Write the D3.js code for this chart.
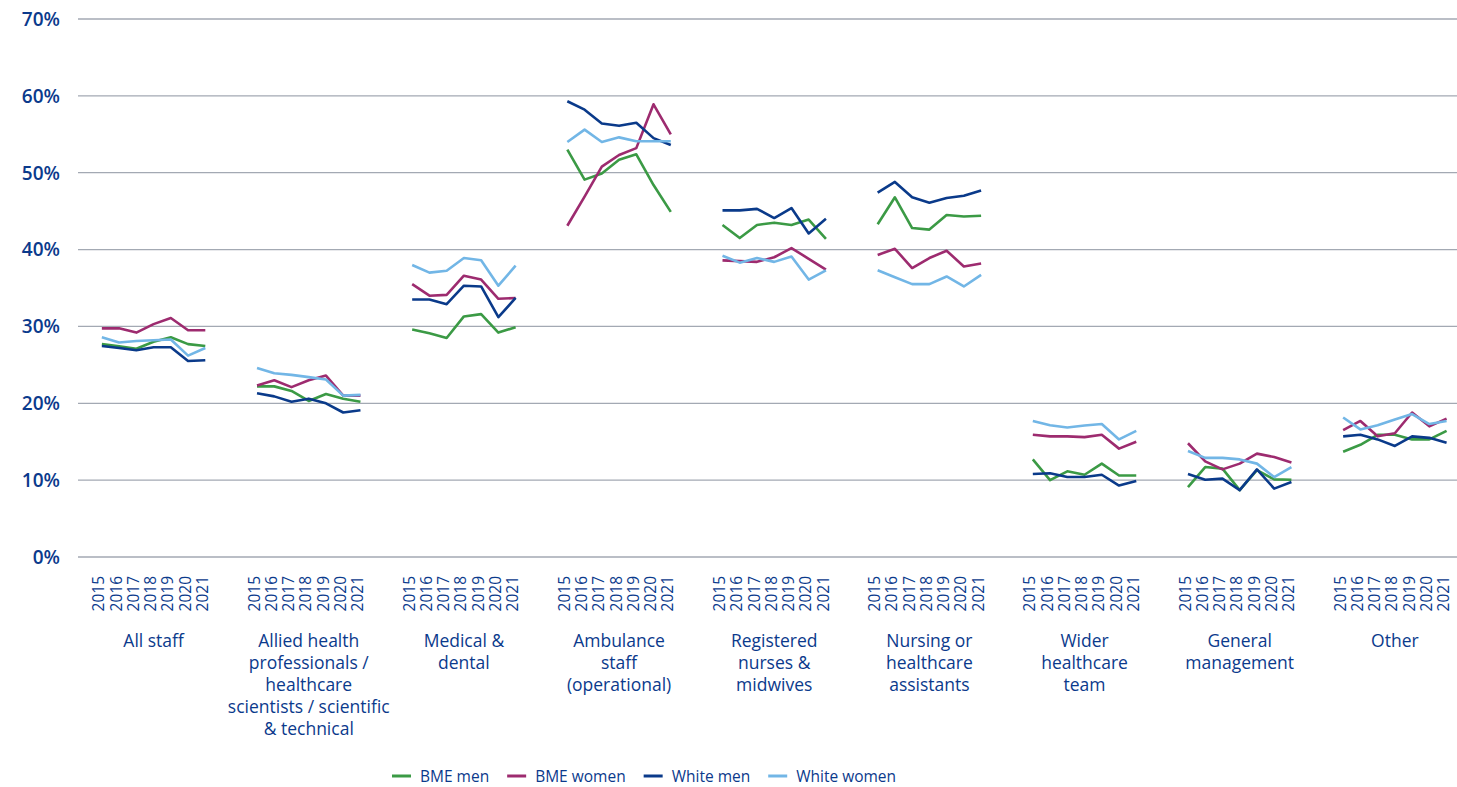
<!DOCTYPE html>
<html lang="en">
  <head>
    <meta charset="UTF-8" />
    <title>Staff groups by ethnicity and gender</title>
    <style>
      body {
        margin: 0;
        background: #fff;
      }
      svg {
        display: block;
        font-family: "Open Sans", "Noto Sans", sans-serif;
      }
      .grid line {
        stroke: #a3a9b3;
        stroke-width: 1.3px;
      }
      .ylab {
        fill: #0b3a8c;
        font-size: 19px;
        font-weight: 600;
      }
      .year {
        fill: #0b3a8c;
        font-size: 15.5px;
      }
      .glab {
        fill: #0b3a8c;
        font-size: 17.5px;
      }
      .leg text {
        fill: #0b3a8c;
        font-size: 15.5px;
      }
      .series {
        fill: none;
        stroke-width: 2.6px;
        stroke-linejoin: round;
      }
    </style>
  </head>
  <body>
    <svg width="1457" height="787"></svg>
    <script src="https://d3js.org/d3.v7.min.js"></script>
    <script>
      // data (percent)
      const years = ["2015", "2016", "2017", "2018", "2019", "2020", "2021"];
      const groups = [
        ["All staff"],
        ["Allied health", "professionals /", "healthcare", "scientists / scientific", "& technical"],
        ["Medical &", "dental"],
        ["Ambulance", "staff", "(operational)"],
        ["Registered", "nurses &", "midwives"],
        ["Nursing or", "healthcare", "assistants"],
        ["Wider", "healthcare", "team"],
        ["General", "management"],
        ["Other"]
      ];
      const yTicks = [0, 10, 20, 30, 40, 50, 60, 70];

      const bmeMen = [
        [27.7, 27.4, 27.1, 28.0, 28.6, 27.7, 27.45],
        [22.2, 22.2, 21.6, 20.3, 21.2, 20.6, 20.2],
        [29.6, 29.1, 28.5, 31.3, 31.6, 29.2, 29.9],
        [53.0, 49.1, 49.9, 51.7, 52.4, 48.4, 44.9],
        [43.2, 41.5, 43.2, 43.5, 43.2, 43.9, 41.4],
        [43.3, 46.8, 42.8, 42.6, 44.5, 44.3, 44.4],
        [12.7, 10.0, 11.15, 10.7, 12.15, 10.6, 10.6],
        [9.1, 11.7, 11.5, 8.7, 11.3, 10.1, 10.05],
        [13.7, 14.6, 15.9, 15.9, 15.3, 15.3, 16.4]
      ];
      const bmeWomen = [
        [29.75, 29.75, 29.2, 30.3, 31.1, 29.5, 29.5],
        [22.3, 23.0, 22.1, 23.0, 23.6, 21.0, 21.0],
        [35.5, 34.0, 34.1, 36.6, 36.1, 33.6, 33.7],
        [43.1, 46.9, 50.8, 52.3, 53.2, 58.9, 55.0],
        [38.6, 38.5, 38.4, 39.0, 40.2, 38.8, 37.4],
        [39.3, 40.1, 37.6, 38.9, 39.85, 37.8, 38.2],
        [15.9, 15.7, 15.7, 15.6, 15.9, 14.1, 15.0],
        [14.8, 12.45, 11.4, 12.15, 13.45, 13.0, 12.3],
        [16.5, 17.7, 15.7, 16.1, 18.8, 17.0, 18.0]
      ];
      const whiteMen = [
        [27.45, 27.2, 26.9, 27.3, 27.3, 25.5, 25.6],
        [21.3, 20.9, 20.2, 20.6, 20.0, 18.8, 19.1],
        [33.5, 33.5, 32.9, 35.3, 35.2, 31.2, 33.7],
        [59.3, 58.2, 56.4, 56.1, 56.5, 54.5, 53.6],
        [45.1, 45.1, 45.3, 44.1, 45.4, 42.1, 44.0],
        [47.4, 48.8, 46.8, 46.1, 46.7, 47.0, 47.7],
        [10.8, 10.9, 10.4, 10.4, 10.7, 9.3, 9.9],
        [10.8, 10.05, 10.2, 8.7, 11.4, 8.9, 9.75],
        [15.7, 15.9, 15.3, 14.45, 15.7, 15.5, 14.85]
      ];
      const whiteWomen = [
        [28.6, 27.9, 28.1, 28.2, 28.3, 26.2, 27.2],
        [24.6, 23.9, 23.7, 23.4, 23.1, 21.0, 21.1],
        [38.0, 37.0, 37.25, 38.9, 38.6, 35.3, 37.9],
        [54.0, 55.6, 54.0, 54.6, 54.1, 54.1, 54.1],
        [39.2, 38.3, 38.9, 38.4, 39.1, 36.1, 37.3],
        [37.3, 36.4, 35.5, 35.5, 36.5, 35.2, 36.7],
        [17.7, 17.15, 16.85, 17.1, 17.3, 15.3, 16.4],
        [13.8, 12.9, 12.9, 12.7, 12.15, 10.4, 11.7],
        [18.15, 16.6, 17.15, 17.9, 18.6, 17.3, 17.7]
      ];

      const series = [
        { name: "BME men", color: "#3b9a45", values: bmeMen },
        { name: "BME women", color: "#9d2b6f", values: bmeWomen },
        { name: "White men", color: "#0a3a8a", values: whiteMen },
        { name: "White women", color: "#72b6e6", values: whiteWomen }
      ];

      const svg = d3.select("svg"),
        W = +svg.attr("width");

      // every group takes 9 slots: a blank, the 7 years, a blank
      const slots = [];
      groups.forEach((g, gi) => {
        slots.push(gi + "-a");
        years.forEach((yr) => slots.push(gi + "-" + yr));
        slots.push(gi + "-b");
      });
      const step = 17.24;
      const x = d3.scaleBand().domain(slots).range([76, 76 + slots.length * step]);
      const xc = (gi, yr) => x(gi + "-" + yr) + x.bandwidth() / 2;
      const y = d3.scaleLinear().domain([0, 70]).range([557, 19]);

      // gridlines + y labels
      const grid = svg.append("g").attr("class", "grid");
      grid.selectAll("line")
        .data(yTicks)
        .enter()
        .append("line")
        .attr("x1", 78)
        .attr("x2", W)
        .attr("y1", (d) => y(d))
        .attr("y2", (d) => y(d));
      svg.append("g")
        .selectAll("text")
        .data(yTicks)
        .enter()
        .append("text")
        .attr("class", "ylab")
        .attr("x", 60)
        .attr("y", (d) => y(d))
        .attr("dy", "0.36em")
        .attr("text-anchor", "end")
        .text((d) => d + "%");

      // year ticks (rotated) and group names
      const xg = svg.append("g");
      groups.forEach((g, gi) => {
        years.forEach((yr) => {
          const cx = xc(gi, yr) - 3;
          xg.append("text")
            .attr("class", "year")
            .attr("transform", "translate(" + cx + ",576) rotate(-90)")
            .attr("dy", "0.36em")
            .attr("text-anchor", "end")
            .text(yr);
        });
        const mid = (xc(gi, years[0]) + xc(gi, years[years.length - 1])) / 2;
        const t = xg.append("text")
          .attr("class", "glab")
          .attr("text-anchor", "middle")
          .attr("x", mid)
          .attr("y", 647);
        g.forEach((ln, li) => {
          t.append("tspan").attr("x", mid).attr("dy", li ? 22 : 0).text(ln);
        });
      });

      // lines, broken between groups
      const line = d3.line()
        .x((d) => xc(d.gi, d.yr))
        .y((d) => y(d.v));
      series.forEach((s) => {
        s.values.forEach((vals, gi) => {
          const pts = vals.map((v, i) => ({ gi: gi, yr: years[i], v: v }));
          svg.append("path")
            .attr("class", "series")
            .attr("stroke", s.color)
            .attr("d", line(pts));
        });
      });

      // legend
      const leg = svg.append("g").attr("class", "leg").attr("transform", "translate(392,776)");
      let lx = 0;
      series.forEach((s) => {
        const it = leg.append("g").attr("transform", "translate(" + lx + ",0)");
        it.append("line")
          .attr("x1", 0)
          .attr("x2", 19)
          .attr("stroke", s.color)
          .attr("stroke-width", 3);
        const tx = it.append("text").attr("x", 28).attr("y", 5.5).text(s.name);
        lx += 28 + tx.node().getComputedTextLength() + 18;
      });
    </script>
  </body>
</html>
